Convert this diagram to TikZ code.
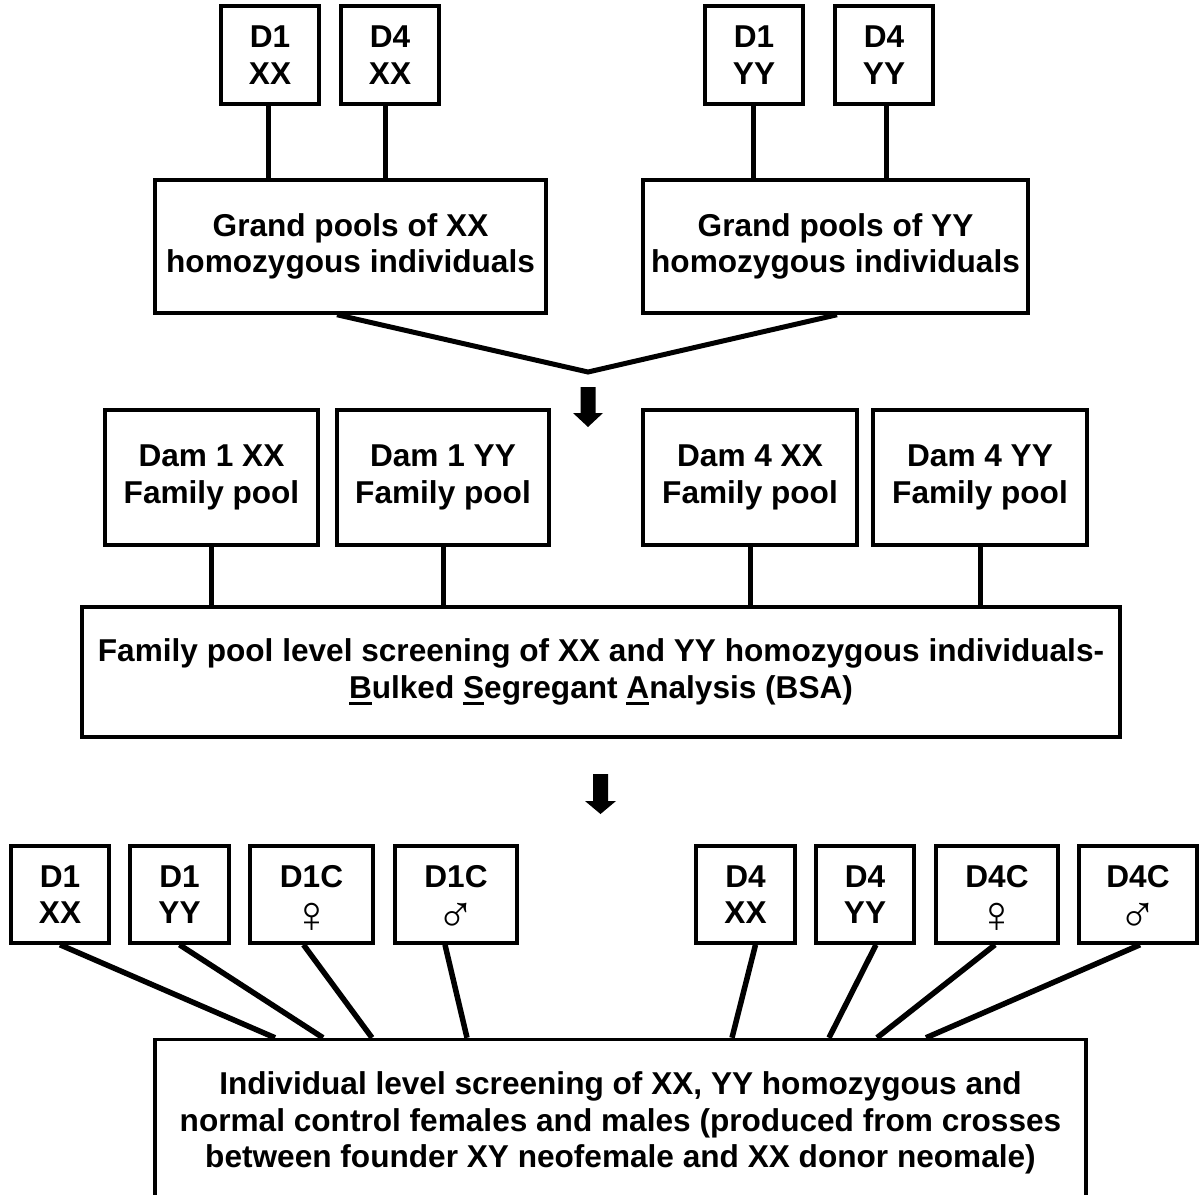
\documentclass[tikz,border=0pt]{standalone}
\usepackage{fontspec}
\setmainfont{Liberation Sans}
\newcommand\myul[1]{\setbox0\hbox{#1}\rlap{\smash{\rule[-7pt]{\wd0}{3pt}}}\box0}
\newcommand\sexsym[1]{\smash{\raisebox{-9pt}{\mdseries\fontsize{52}{36}\selectfont #1}}}
\begin{document}
\begin{tikzpicture}[x=1pt,y=-1pt,
  bx/.style={draw, line width=3.5pt, align=center, inner sep=0pt,
    font=\bfseries\fontsize{31.6}{36.5}\selectfont},
  conn/.style={line width=5pt},
  diag/.style={line width=5.5pt},
  blockarrow/.style={fill=black}]
\useasboundingbox (0,0) rectangle (1199,1194);
\clip (0,0) rectangle (1199,1194);

% top row
\node[bx, minimum width=98pt, minimum height=98pt] (t1) at (270,55) {D1\\XX};
\node[bx, minimum width=98pt, minimum height=98pt] (t2) at (390,55) {D4\\XX};
\node[bx, minimum width=98pt, minimum height=98pt] (t3) at (754,55) {D1\\YY};
\node[bx, minimum width=98pt, minimum height=98pt] (t4) at (884,55) {D4\\YY};

\node[bx, minimum width=391pt, minimum height=133pt] (gpxx) at (350.5,246.5) {Grand pools of XX\\homozygous individuals};
\node[bx, minimum width=385pt, minimum height=133pt] (gpyy) at (835.5,246.5) {Grand pools of YY\\homozygous individuals};

\path ([xshift=-2pt]t1.south) coordinate (s1);
\path ([xshift=-5pt]t2.south) coordinate (s2);
\path ([xshift=-1pt]t3.south) coordinate (s3);
\path ([xshift=2pt]t4.south) coordinate (s4);
\draw[conn] (s1) -- (s1 |- gpxx.north);
\draw[conn] (s2) -- (s2 |- gpxx.north);
\draw[conn] (s3) -- (s3 |- gpyy.north);
\draw[conn] (s4) -- (s4 |- gpyy.north);

\coordinate (apex) at (588,372);
\draw[conn] ([xshift=-13.5pt]gpxx.south) -- (apex) -- ([xshift=1.5pt]gpyy.south);

% arrow 1
\fill[blockarrow] (580.5,387) -- (595.5,387) -- (595.5,413) -- (603,413) -- (588,427) -- (573,413) -- (580.5,413) -- cycle;

% family pools
\node[bx, minimum width=213pt, minimum height=135pt] (f1) at (211.5,477.5) {Dam 1 XX\\Family pool};
\node[bx, minimum width=212pt, minimum height=135pt] (f2) at (443,477.5) {Dam 1 YY\\Family pool};
\node[bx, minimum width=214pt, minimum height=135pt] (f3) at (750,477.5) {Dam 4 XX\\Family pool};
\node[bx, minimum width=214pt, minimum height=135pt] (f4) at (980,477.5) {Dam 4 YY\\Family pool};

\node[bx, minimum width=1038pt, minimum height=130pt] (bsa) at (601,672)
  {Family pool level screening of XX and YY homozygous individuals-\\
   \myul{B}ulked \myul{S}egregant \myul{A}nalysis (BSA)};

\draw[conn] (f1.south) -- (f1.south |- bsa.north);
\draw[conn] (f2.south) -- (f2.south |- bsa.north);
\draw[conn] (f3.south) -- (f3.south |- bsa.north);
\draw[conn] (f4.south) -- (f4.south |- bsa.north);

% arrow 2
\fill[blockarrow] (593,774) -- (608,774) -- (608,801) -- (616,801) -- (600.5,814) -- (585,801) -- (593,801) -- cycle;

% bottom row
\node[bx, minimum width=98pt, minimum height=97pt] (b1) at (60,894.5) {D1\\XX};
\node[bx, minimum width=99pt, minimum height=97pt] (b2) at (179.5,894.5) {D1\\YY};
\node[bx, minimum width=123pt, minimum height=97pt] (b3) at (311.5,894.5) {D1C\\\sexsym{♀}};
\node[bx, minimum width=122pt, minimum height=97pt] (b4) at (456,894.5) {D1C\\\sexsym{♂}};
\node[bx, minimum width=99pt, minimum height=97pt] (b5) at (745.5,894.5) {D4\\XX};
\node[bx, minimum width=98pt, minimum height=97pt] (b6) at (865,894.5) {D4\\YY};
\node[bx, minimum width=122pt, minimum height=97pt] (b7) at (997,894.5) {D4C\\\sexsym{♀}};
\node[bx, minimum width=118pt, minimum height=97pt] (b8) at (1138,894.5) {D4C\\\sexsym{♂}};

\node[bx, minimum width=931pt, minimum height=167pt] (ind) at (620.5,1123)
  {Individual level screening of XX, YY homozygous and\\
   normal control females and males (produced from crosses\\
   between founder XY neofemale and XX donor neomale)};

\draw[diag] (b1.south) -- ([xshift=-345.5pt]ind.north);
\draw[diag] (b2.south) -- ([xshift=-297.5pt]ind.north);
\draw[diag] ([xshift=-8pt]b3.south) -- ([xshift=-248.5pt]ind.north);
\draw[diag] ([xshift=-11pt]b4.south) -- ([xshift=-153.5pt]ind.north);
\draw[diag] ([xshift=10pt]b5.south) -- ([xshift=111.5pt]ind.north);
\draw[diag] ([xshift=11pt]b6.south) -- ([xshift=208.5pt]ind.north);
\draw[diag] ([xshift=-2pt]b7.south) -- ([xshift=256.5pt]ind.north);
\draw[diag] ([xshift=2pt]b8.south) -- ([xshift=305.5pt]ind.north);
\end{tikzpicture}
\end{document}
